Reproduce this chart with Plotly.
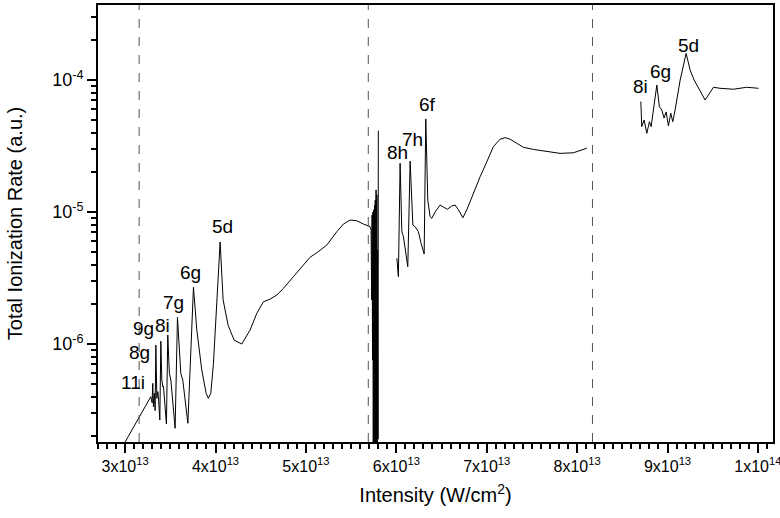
import math
import plotly.graph_objects as go

# Intensity in units of 1e13 W/cm^2, rate in a.u.
seg1_x = [2.92, 3.000, 3.284, 3.299, 3.306, 3.313, 3.324, 3.332, 3.340, 3.351, 3.362, 3.368,
          3.384, 3.395, 3.406, 3.417, 3.424, 3.457, 3.472, 3.483, 3.490, 3.506, 3.553,
          3.579, 3.601, 3.616, 3.638, 3.694, 3.756, 3.793, 3.848, 3.896, 3.921, 3.948,
          3.977, 4.011, 4.051, 4.084, 4.139, 4.206, 4.291, 4.383, 4.457, 4.530, 4.604,
          4.678, 4.751, 4.862, 4.972, 5.046, 5.121, 5.231, 5.342, 5.415, 5.489, 5.563,
          5.636, 5.710, 5.721, 5.727, 5.732, 5.737, 5.741, 5.745, 5.750, 5.754, 5.759,
          5.763, 5.767, 5.772, 5.776, 5.780, 5.785, 5.789, 5.793, 5.798, 5.801]
seg1_y = [1.47e-7, 1.81e-7, 3.99e-7, 3.59e-7, 5.04e-7, 3.35e-7, 4.24e-7, 3.13e-7, 9.82e-7,
          3.88e-7, 4.36e-7, 3.99e-7, 2.66e-7, 1.05e-6, 5.33e-7, 4.75e-7, 4.81e-7, 2.48e-7,
          1.17e-6, 7.56e-7, 6.00e-7, 5.33e-7, 2.30e-7, 1.59e-6, 8.02e-7, 6.00e-7, 5.33e-7,
          2.51e-7, 2.69e-6, 1.28e-6, 6.35e-7, 4.24e-7, 3.88e-7, 4.24e-7, 7.14e-7, 1.81e-6,
          5.93e-6, 2.16e-6, 1.39e-6, 1.07e-6, 1.00e-6, 1.28e-6, 1.71e-6, 2.09e-6, 2.19e-6,
          2.35e-6, 2.64e-6, 3.24e-6, 3.97e-6, 4.54e-6, 4.92e-6, 5.62e-6, 7.10e-6, 8.11e-6,
          8.69e-6, 8.59e-6, 8.11e-6, 7.74e-6, 7.31e-6, 2.16e-6, 9.48e-6, 7.56e-7, 1.00e-5,
          1.11e-7, 1.04e-5, 1.10e-7, 1.13e-5, 1.10e-7, 1.23e-5, 1.10e-7, 1.47e-5, 1.10e-7,
          1.35e-5, 1.30e-7, 5.15e-6, 1.90e-7, 4.13e-5]

seg2_x = [6.006, 6.023, 6.042, 6.061, 6.079, 6.103, 6.127, 6.153, 6.183, 6.208, 6.244,
          6.274, 6.308, 6.326, 6.348, 6.374, 6.393, 6.429, 6.485, 6.521, 6.565, 6.614,
          6.650, 6.687, 6.736, 6.780, 6.853, 6.927, 7.001, 7.074, 7.148, 7.204, 7.259,
          7.333, 7.406, 7.517, 7.665, 7.812, 7.959, 8.107]
seg2_y = [4.46e-6, 3.24e-6, 2.34e-5, 7.10e-6, 6.50e-6, 5.15e-6, 3.85e-6, 2.43e-5, 7.98e-6,
          7.74e-6, 7.10e-6, 5.79e-6, 4.81e-6, 5.07e-5, 1.23e-5, 9.21e-6, 8.95e-6, 1.00e-5,
          1.13e-5, 1.09e-5, 1.05e-5, 1.11e-5, 1.13e-5, 1.04e-5, 9.05e-6, 1.04e-5, 1.39e-5,
          1.85e-5, 2.40e-5, 3.13e-5, 3.56e-5, 3.66e-5, 3.56e-5, 3.31e-5, 3.09e-5, 2.98e-5,
          2.86e-5, 2.78e-5, 2.81e-5, 3.04e-5]

seg3_x = [8.705, 8.715, 8.741, 8.771, 8.800, 8.819, 8.882, 8.910, 8.937, 8.962, 8.985,
          9.010, 9.036, 9.058, 9.084, 9.140, 9.206, 9.250, 9.294, 9.361, 9.416, 9.508,
          9.582, 9.729, 9.877, 10.006]
seg3_y = [6.86e-5, 4.43e-5, 4.98e-5, 3.94e-5, 4.83e-5, 4.43e-5, 9.16e-5, 6.28e-5, 5.93e-5,
          5.15e-5, 5.73e-5, 4.49e-5, 5.60e-5, 4.83e-5, 5.93e-5, 1.00e-4, 1.59e-4, 1.19e-4,
          1.00e-4, 8.15e-5, 7.05e-5, 8.81e-5, 8.65e-5, 8.51e-5, 8.81e-5, 8.65e-5]

# state labels
label_text = ["11i", "8g", "9g", "8i", "7g", "6g", "5d", "8h", "7h", "6f", "8i", "6g", "5d"]
label_x = [3.088, 3.155, 3.199, 3.409, 3.531, 3.719, 4.073, 6.009, 6.175, 6.341, 8.697, 8.918, 9.228]
label_y = [5.15e-7, 8.69e-7, 1.32e-6, 1.39e-6, 2.05e-6, 3.51e-6, 7.83e-6, 2.80e-5, 3.57e-5,
           6.47e-5, 8.85e-5, 1.15e-4, 1.84e-4]

# threshold positions (dashed)
threshold_x = [3.155, 5.69, 8.17]

x_ticks = [3, 4, 5, 6, 7, 8, 9, 10]
x_ticktext = ["3x10<sup>13</sup>", "4x10<sup>13</sup>", "5x10<sup>13</sup>", "6x10<sup>13</sup>",
              "7x10<sup>13</sup>", "8x10<sup>13</sup>", "9x10<sup>13</sup>", "1x10<sup>14</sup>"]
y_ticks = [1e-6, 1e-5, 1e-4]
y_ticktext = ["10<sup>-6</sup>", "10<sup>-5</sup>", "10<sup>-4</sup>"]

E13 = 1e13
FONT = "Liberation Sans, Arial, sans-serif"

fig = go.Figure()
for xs, ys in [(seg1_x, seg1_y), (seg2_x, seg2_y), (seg3_x, seg3_y)]:
    fig.add_trace(go.Scatter(
        x=[v * E13 for v in xs], y=ys, mode="lines",
        line=dict(color="black", width=1), showlegend=False
    ))

for xv in threshold_x:
    fig.add_vline(x=xv * E13, line=dict(color="#555555", width=1, dash="dash"))

# annotations on a log axis take log10 positions
for t, xv, yv in zip(label_text, label_x, label_y):
    fig.add_annotation(x=xv * E13, y=math.log10(yv), text=t, showarrow=False,
                       font=dict(family=FONT, size=19, color="black"))

fig.update_xaxes(
    range=[2.70 * E13, 10.167 * E13], automargin=False,
    tickvals=[v * E13 for v in x_ticks], ticktext=x_ticktext,
    ticklabeloverflow="allow",
    ticks="outside", ticklen=9, tickwidth=1.5, tickcolor="black",
    minor=dict(dtick=0.1 * E13, ticks="outside", ticklen=5, tickwidth=1.5, tickcolor="black"),
    showline=True, linewidth=2, linecolor="black", mirror=True,
    showgrid=False, zeroline=False,
    tickfont=dict(family=FONT, size=16, color="black"),
    title=dict(text="Intensity (W/cm<sup>2</sup>)", font=dict(family=FONT, size=20, color="black"),
               standoff=14),
)
fig.update_yaxes(
    type="log", range=[-6.742, -3.432], automargin=False,
    tickvals=y_ticks, ticktext=y_ticktext,
    ticks="outside", ticklen=9, tickwidth=1.5, tickcolor="black",
    minor=dict(dtick="D1", ticks="outside", ticklen=5, tickwidth=1.5, tickcolor="black"),
    showline=True, linewidth=2, linecolor="black", mirror=True,
    showgrid=False, zeroline=False,
    tickfont=dict(family=FONT, size=18, color="black"),
    title=dict(text="Total Ionization Rate (a.u.)", font=dict(family=FONT, size=20, color="black"),
               standoff=24),
)

fig.update_layout(
    width=780, height=518,
    margin=dict(l=98, r=7, t=5, b=76),
    plot_bgcolor="white", paper_bgcolor="white",
    font=dict(family=FONT, color="black"),
)

# drop the browser's default body margin so the figure sits at the page corner
fig.write_html("out.html", config={"displayModeBar": False},
               post_script="document.body.style.margin='0px';")
